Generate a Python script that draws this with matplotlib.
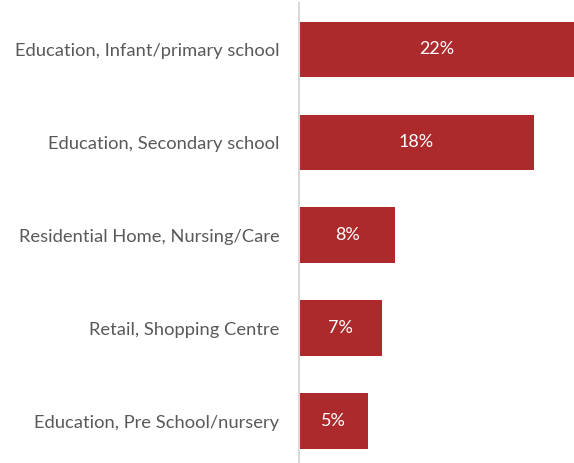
import matplotlib
matplotlib.use("Agg")
import matplotlib.pyplot as plt

categories = ["Education, Infant/primary school",
              "Education, Secondary school",
              "Residential Home, Nursing/Care",
              "Retail, Shopping Centre",
              "Education, Pre School/nursery"]
values = [22.0, 18.8, 7.7, 6.6, 5.5]
labels = ["22%", "18%", "8%", "7%", "5%"]

plt.rcParams['font.family'] = ['Lato', 'DejaVu Sans']

fig = plt.figure(figsize=(5.74, 4.63), dpi=100)
ax = fig.add_axes([299 / 574, 0, 275 / 574, 460 / 463])

pos = list(range(len(categories)))
bars = ax.barh(pos, values, height=0.6, color="#AC2A2C")
ax.bar_label(bars, labels=labels, label_type="center", color="white", fontsize=13)

ax.set_yticks(pos)
ax.set_yticklabels(categories, fontsize=13.2, color="#595959")
ax.tick_params(axis="y", length=0, pad=14)
ax.set_xticks([])
ax.set_xlim(0, 22)
ax.set_ylim(4.45, -0.5)

for s in ["top", "right", "bottom"]:
    ax.spines[s].set_visible(False)
ax.spines["left"].set_color("#D9D9D9")
ax.spines["left"].set_linewidth(1.5)

fig.savefig("out.png", dpi=100)
